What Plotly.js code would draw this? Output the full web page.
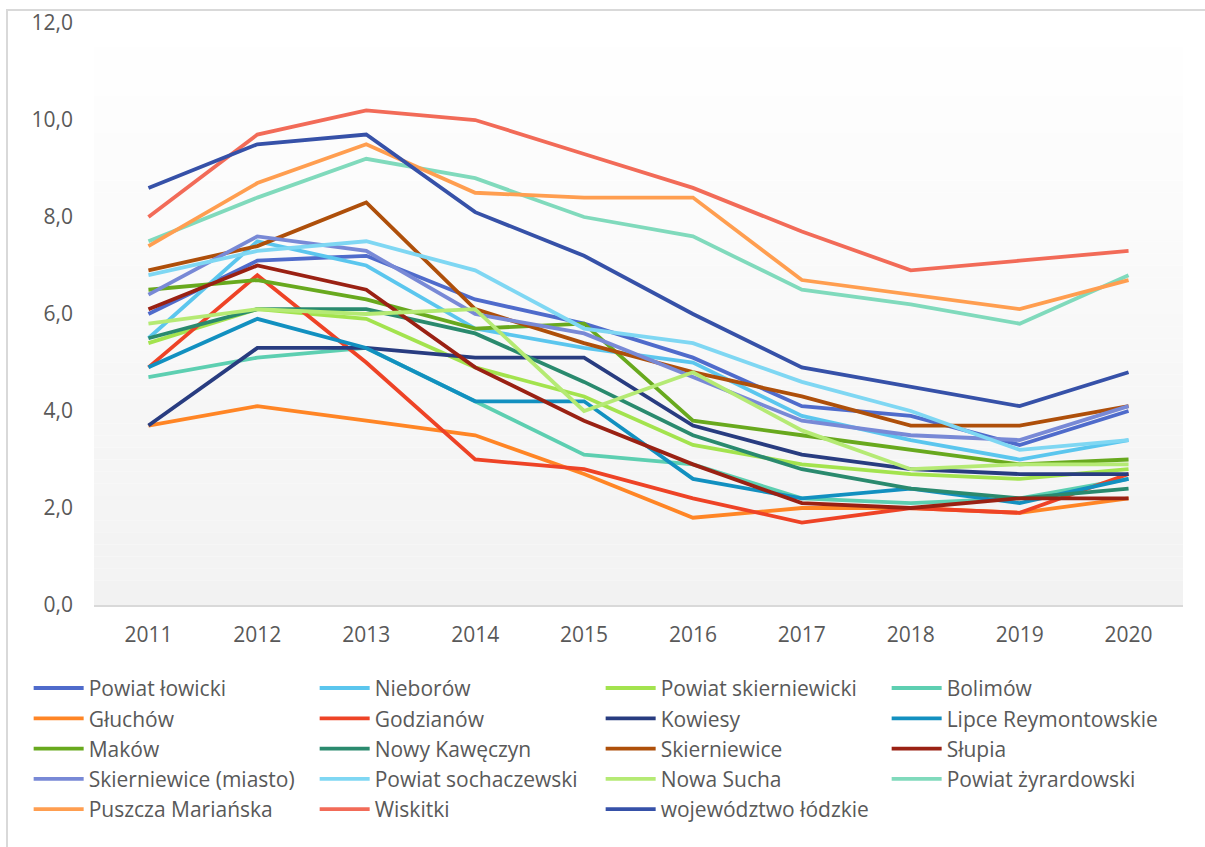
<!DOCTYPE html>
<html>
<head>
<meta charset="utf-8">
<script src="https://cdn.plot.ly/plotly-3.0.1.min.js"></script>
<style>html,body{margin:0;padding:0;background:#fff;}#chart{width:1205px;height:847px;}</style>
</head>
<body>
<div id="chart"></div>
<script>
const years = ["2011","2012","2013","2014","2015","2016","2017","2018","2019","2020"];

const powiatLowicki        = [6.0, 7.1, 7.2, 6.3, 5.8, 5.1, 4.1, 3.9, 3.3, 4.0];
const nieborow             = [5.5, 7.5, 7.0, 5.7, 5.3, 5.0, 3.9, 3.4, 3.0, 3.4];
const powiatSkierniewicki  = [5.4, 6.1, 5.9, 4.9, 4.3, 3.3, 2.9, 2.7, 2.6, 2.8];
const bolimow              = [4.7, 5.1, 5.3, 4.2, 3.1, 2.9, 2.2, 2.1, 2.2, 2.6];
const gluchow              = [3.7, 4.1, 3.8, 3.5, 2.7, 1.8, 2.0, 2.0, 1.9, 2.2];
const godzianow            = [4.9, 6.8, 5.0, 3.0, 2.8, 2.2, 1.7, 2.0, 1.9, 2.7];
const kowiesy              = [3.7, 5.3, 5.3, 5.1, 5.1, 3.7, 3.1, 2.8, 2.7, 2.7];
const lipceReymontowskie   = [4.9, 5.9, 5.3, 4.2, 4.2, 2.6, 2.2, 2.4, 2.1, 2.6];
const makow                = [6.5, 6.7, 6.3, 5.7, 5.8, 3.8, 3.5, 3.2, 2.9, 3.0];
const nowyKaweczyn         = [5.5, 6.1, 6.1, 5.6, 4.6, 3.5, 2.8, 2.4, 2.2, 2.4];
const skierniewice         = [6.9, 7.4, 8.3, 6.1, 5.4, 4.8, 4.3, 3.7, 3.7, 4.1];
const slupia               = [6.1, 7.0, 6.5, 4.9, 3.8, 2.9, 2.1, 2.0, 2.2, 2.2];
const skierniewiceMiasto   = [6.4, 7.6, 7.3, 6.0, 5.6, 4.7, 3.8, 3.5, 3.4, 4.1];
const powiatSochaczewski   = [6.8, 7.3, 7.5, 6.9, 5.7, 5.4, 4.6, 4.0, 3.2, 3.4];
const nowaSucha            = [5.8, 6.1, 6.0, 6.1, 4.0, 4.8, 3.6, 2.8, 2.9, 2.9];
const powiatZyrardowski    = [7.5, 8.4, 9.2, 8.8, 8.0, 7.6, 6.5, 6.2, 5.8, 6.8];
const puszczaMarianska     = [7.4, 8.7, 9.5, 8.5, 8.4, 8.4, 6.7, 6.4, 6.1, 6.7];
const wiskitki             = [8.0, 9.7, 10.2, 10.0, 9.3, 8.6, 7.7, 6.9, 7.1, 7.3];
const wojewodztwoLodzkie   = [8.6, 9.5, 9.7, 8.1, 7.2, 6.0, 4.9, 4.5, 4.1, 4.8];

const seriesNames = ["Powiat łowicki","Nieborów","Powiat skierniewicki","Bolimów",
  "Głuchów","Godzianów","Kowiesy","Lipce Reymontowskie",
  "Maków","Nowy Kawęczyn","Skierniewice","Słupia",
  "Skierniewice (miasto)","Powiat sochaczewski","Nowa Sucha","Powiat żyrardowski",
  "Puszcza Mariańska","Wiskitki","województwo łódzkie"];
const seriesValues = [powiatLowicki, nieborow, powiatSkierniewicki, bolimow,
  gluchow, godzianow, kowiesy, lipceReymontowskie,
  makow, nowyKaweczyn, skierniewice, slupia,
  skierniewiceMiasto, powiatSochaczewski, nowaSucha, powiatZyrardowski,
  puszczaMarianska, wiskitki, wojewodztwoLodzkie];
const seriesColors = ["#4F6BCB","#5BC6EE","#A3E34E","#5DCFB1",
  "#FF8525","#EE4326","#283C80","#1290C0",
  "#68A91E","#2A8A6E","#AE4F0A","#9A2113",
  "#7889D6","#7FD7F3","#B5EA74","#80DABC",
  "#FF9E50","#F26B58","#3651A8"];

const traces = seriesNames.map((name, i) => ({
  type: "scatter", mode: "lines", name: name,
  x: years, y: seriesValues[i],
  line: {color: seriesColors[i], width: 3.8},
  hoverinfo: "name+y"
}));

const shapes = [];
// plot-area gradient (white at top to light gray at bottom)
const nBands = 48;
for (let k = 0; k < nBands; k++) {
  const t = (k + 0.5) / nBands; // 0 bottom -> 1 top
  const v = Math.round(242 + (255 - 242) * t);
  shapes.push({type: "rect", xref: "paper", yref: "paper", layer: "below",
    x0: 0, x1: 1, y0: k / nBands, y1: (k + 1) / nBands,
    fillcolor: `rgb(${v},${v},${v})`, line: {width: 0}});
}
// drop lines from the highest value to the axis
years.forEach((yr, j) => {
  const maxV = Math.max(...seriesValues.map(s => s[j]));
  shapes.push({type: "line", xref: "x", yref: "y", layer: "below",
    x0: yr, x1: yr, y0: 0, y1: maxV,
    line: {color: "#d9d9d9", width: 1.6}});
});
// outer chart border
shapes.push({type: "rect", xref: "paper", yref: "paper", layer: "above",
  x0: (7 - 94) / 1089, x1: (1215 - 94) / 1089, y0: (605 - 870) / 582, y1: (605 - 10) / 582,
  fillcolor: "rgba(0,0,0,0)", line: {color: "#d9d9d9", width: 2}});

const layout = {
  width: 1205, height: 847,
  margin: {l: 94, r: 22, t: 23, b: 242, autoexpand: false},
  paper_bgcolor: "#ffffff", plot_bgcolor: "#ffffff",
  separators: ", ",
  font: {family: "Open Sans, sans-serif", color: "#595959"},
  showlegend: true,
  xaxis: {
    type: "category", range: [-0.5, 9.5], showgrid: false, zeroline: false,
    showline: true, linecolor: "#d9d9d9", linewidth: 1.6,
    ticks: "", tickfont: {size: 21, color: "#595959"}, ticklabelstandoff: 10,
    fixedrange: true
  },
  yaxis: {
    range: [0, 12], dtick: 2, tickformat: ".1f", showgrid: false, zeroline: false,
    showline: false, ticks: "", tickfont: {size: 21, color: "#595959"},
    ticklabelstandoff: 20, fixedrange: true
  },
  legend: {
    orientation: "h", x: -0.06, xanchor: "left", y: -0.108, yanchor: "top",
    font: {size: 21, color: "#595959"},
    entrywidth: 221, entrywidthmode: "pixels", itemwidth: 50,
    bgcolor: "rgba(0,0,0,0)", traceorder: "normal"
  },
  shapes: shapes
};

Plotly.newPlot("chart", traces, layout, {displayModeBar: false, staticPlot: true});
</script>
</body>
</html>
